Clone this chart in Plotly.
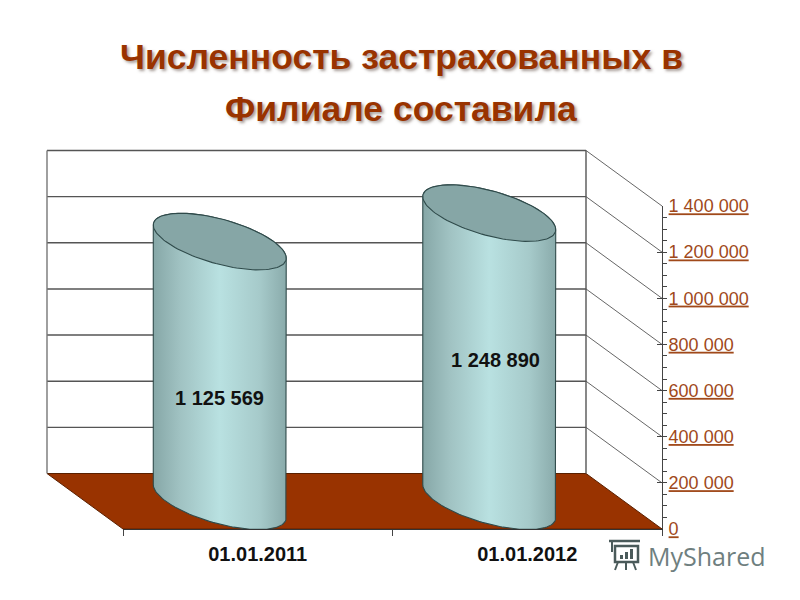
import numpy as np
import plotly.graph_objects as go

# ---- data ----
categories = ["01.01.2011", "01.01.2012"]
values = [1125569, 1248890]
tick_values = [0, 200000, 400000, 600000, 800000, 1000000, 1200000, 1400000]
tick_labels = ["0", "200 000", "400 000", "600 000", "800 000", "1 000 000", "1 200 000", "1 400 000"]
title_lines = ["Численность застрахованных в", "Филиале составила"]
label_texts = ["1 125 569", "1 248 890"]

# ---- layout / projection constants (pixels of the 800x600 page) ----
W, H = 800, 600
FRONT_L, FRONT_R = 123, 662
FRONT_BOTTOM, FRONT_TOP = 529, 206
DEPTH_PX_X, DEPTH_PX_Y = 76, 55.5
PX_PER_CAT = (FRONT_R - FRONT_L) / len(categories)
PX_PER_VAL = (FRONT_BOTTOM - FRONT_TOP) / tick_values[-1]
DX = -DEPTH_PX_X / PX_PER_CAT          # depth shift in category units
DY = DEPTH_PX_Y / PX_PER_VAL           # depth shift in value units
MAX_V = tick_values[-1]
X1 = len(categories) - 0.5
LEFT_BACK, RIGHT_BACK = -0.5 + DX, X1 + DX
R_X = 54 / PX_PER_CAT                  # cylinder radius along the category axis
R_DEPTH = 0.51                         # cylinder radius along the depth axis, share of depth


def ellipse(center_x, center_y, t):
    x = center_x + R_X * np.cos(t) + R_DEPTH * DX * np.sin(t)
    y = center_y + R_DEPTH * DY * np.sin(t)
    return x, y


fig = go.Figure()
LINE_GREY = "#555555"

# floor
fig.add_trace(go.Scatter(
    x=[LEFT_BACK, RIGHT_BACK, X1, -0.5, LEFT_BACK],
    y=[DY, DY, 0, 0, DY], mode="lines", fill="toself", fillcolor="#993300",
    line=dict(color="#5a2000", width=1), hoverinfo="skip", showlegend=False))

# back wall gridlines and connectors to the value axis
for v in tick_values:
    if v > 0:
        fig.add_trace(go.Scatter(
            x=[LEFT_BACK, RIGHT_BACK], y=[v + DY, v + DY], mode="lines",
            line=dict(color=LINE_GREY, width=1.4), hoverinfo="skip", showlegend=False))
        fig.add_trace(go.Scatter(
            x=[RIGHT_BACK, X1], y=[v + DY, v], mode="lines",
            line=dict(color=LINE_GREY, width=0.9), hoverinfo="skip", showlegend=False))

# wall verticals
for xv, col in [(LEFT_BACK, "#777777"), (RIGHT_BACK, LINE_GREY)]:
    fig.add_trace(go.Scatter(
        x=[xv, xv], y=[DY, MAX_V + DY], mode="lines",
        line=dict(color=col, width=1.4), hoverinfo="skip", showlegend=False))

# cylinders
t_full = np.linspace(0, 2 * np.pi, 121)
phi = np.arctan2(-R_DEPTH * DX, R_X)
t_back = np.linspace(np.pi - phi, -phi, 61)      # left tangent to right tangent over the top
t_front = np.linspace(-phi, -np.pi - phi, 61)    # right tangent to left tangent under the front

for i, v in enumerate(values):
    cx = i + 0.5 * DX
    cy = 0.5 * DY
    xb, yb = ellipse(cx, cy, t_front)
    xt, yt = ellipse(cx, cy + v, t_back)
    fig.add_trace(go.Scatter(
        x=np.concatenate([xt, xb, xt[:1]]), y=np.concatenate([yt, yb, yt[:1]]),
        mode="lines", fill="toself",
        fillgradient=dict(type="horizontal", colorscale=[
            [0.0, "#86a7a7"], [0.2, "#a0c2c2"], [0.5, "#b9e1e1"],
            [0.8, "#a6caca"], [1.0, "#8aabab"]]),
        line=dict(color="#2f4a4a", width=1.1), hoverinfo="skip", showlegend=False))
    xe, ye = ellipse(cx, cy + v, t_full)
    fig.add_trace(go.Scatter(
        x=xe, y=ye, mode="lines", fill="toself", fillcolor="#86a6a6",
        line=dict(color="#2f4a4a", width=1.1), hoverinfo="skip", showlegend=False))

# series on the real axes (carries the category and value axes)
fig.add_trace(go.Scatter(
    x=categories, y=values, xaxis="x2", yaxis="y2", mode="markers",
    marker=dict(opacity=0), showlegend=False))

FONT = "Liberation Sans, Arial, sans-serif"
shadow = "2px 2px 3px rgba(80,60,50,0.5)"
def note(text, x, y, font, xanchor="center"):
    return dict(text=text, xref="paper", yref="paper", x=x / W, y=1 - y / H, xanchor=xanchor,
                yanchor="middle", showarrow=False, font=font)

annotations = [
    note(f"<b>{title_lines[1]}</b>", 401.5, 109, dict(family=FONT, size=35.5, color="#993300", shadow=shadow)),
    note(label_texts[0], 219, 398, dict(family=FONT, size=20, color="#111111", weight=600)),
    note(label_texts[1], 495.5, 360, dict(family=FONT, size=20, color="#111111", weight=600)),
    note("MyShared", 646, 556, dict(family="Open Sans, sans-serif", size=25, color="#6f7f7f"), "left"),
]

# watermark pictogram, page fractions
ICON = "#4a5a5a"
def seg(x0, y0, x1, y1, width=2):
    return dict(type="line", x0=x0 / W, x1=x1 / W, y0=1 - y0 / H, y1=1 - y1 / H,
                xref="paper", yref="paper", line=dict(color=ICON, width=width))

icon = [
    dict(type="rect", x0=615 / W, x1=638 / W, y0=1 - 562 / H, y1=1 - 546 / H,
         xref="paper", yref="paper", line=dict(color=ICON, width=2.5)),
    seg(609, 541, 640, 541, 2.5), seg(612, 541, 612, 552, 2), seg(618, 562, 615, 570),
    seg(626, 562, 626, 570), seg(633, 562, 636, 570),
]
for bx, top in [(620, 555), (625, 552), (630, 549)]:
    icon.append(dict(type="rect", x0=bx / W, x1=(bx + 3) / W, y0=1 - 559 / H, y1=1 - top / H,
                     xref="paper", yref="paper", fillcolor=ICON, line=dict(width=0)))

fig.update_layout(
    width=W, height=H, margin=dict(l=0, r=0, t=0, b=0), autosize=False,
    paper_bgcolor="white", plot_bgcolor="rgba(0,0,0,0)", showlegend=False,
    title=dict(text=f"<b>{title_lines[0]}</b>", x=401.5 / W, xanchor="center", xref="paper",
               y=1 - 57 / H, yanchor="middle", yref="paper", pad=dict(t=0, b=0),
               font=dict(family=FONT, size=35.5, color="#993300", shadow=shadow)),
    annotations=annotations, shapes=icon,
    # projection plane: same units as the category/value axes, covers the whole page
    xaxis=dict(visible=False, domain=[0, 1], anchor="y", automargin=False,
               range=[-0.5 - FRONT_L / PX_PER_CAT, -0.5 + (W - FRONT_L) / PX_PER_CAT]),
    yaxis=dict(visible=False, domain=[0, 1], anchor="x", automargin=False,
               range=[-(H - FRONT_BOTTOM) / PX_PER_VAL, FRONT_BOTTOM / PX_PER_VAL]),
    xaxis2=dict(type="category", domain=[FRONT_L / W, FRONT_R / W], anchor="y2", automargin=False,
                range=[-0.5, 1.5], tickson="boundaries", ticks="outside", ticklen=6, tickwidth=1,
                tickcolor="#444444", showline=True, linecolor="#333333", linewidth=1, showgrid=False,
                zeroline=False, ticklabelstandoff=7,
                tickfont=dict(family=FONT, size=20, color="#111111", weight=700)),
    yaxis2=dict(domain=[1 - FRONT_BOTTOM / H, 1 - FRONT_TOP / H], anchor="x2", side="right",
                automargin=False, range=[0, MAX_V], tickmode="array", tickvals=tick_values,
                ticktext=[f"<u>{t}</u>" for t in tick_labels],
                ticks="inside", ticklen=5, tickwidth=1, tickcolor="#444444",
                minor=dict(dtick=50000, ticks="outside", ticklen=4, tickwidth=1, tickcolor="#444444",
                           showgrid=False),
                showline=True, linecolor="#444444", linewidth=1, showgrid=False, zeroline=False,
                ticklabelstandoff=2,
                tickfont=dict(family=FONT, size=18, color="#a0491a")),
)

fig.write_html("out.html", config=dict(displayModeBar=False),
               post_script="document.body.style.margin='0';document.body.style.overflow='hidden';")
